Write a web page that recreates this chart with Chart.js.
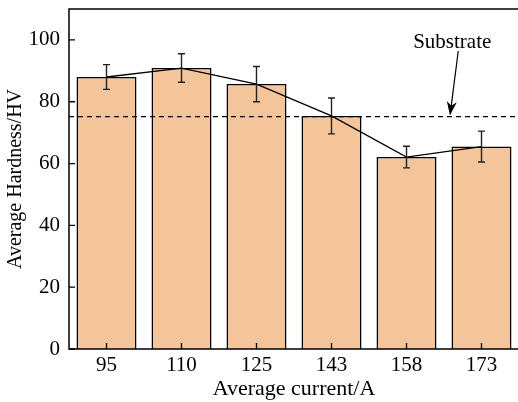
<!DOCTYPE html>
<html>
<head>
<meta charset="utf-8">
<script src="https://cdn.jsdelivr.net/npm/chart.js@4.4.1/dist/chart.umd.min.js"></script>
<style>
    html, body { margin: 0; padding: 0; background: #fff; overflow: hidden; }
    canvas { display: block; }
</style>
</head>
<body>
<canvas id="hardness" width="521" height="402"></canvas>
<script>
// Средний ток, A
const currents = ['95', '110', '125', '143', '158', '173'];
// Средняя твёрдость, HV
const hardness = [88.0, 90.9, 85.7, 75.4, 62.1, 65.5];
// Погрешность (±)
const hardnessErr = [4.0, 4.6, 5.7, 5.8, 3.5, 5.0];
const yTicks = [0, 20, 40, 60, 80, 100];
// Твёрдость подложки
const substrateHV = 75.2;
const substrateLabel = 'Substrate';

const serif = "'Liberation Serif', 'Times New Roman', serif";

// Рамка, засечки внутрь, усы погрешности, пунктир подложки и стрелка
const extrasPlugin = {
    id: 'extras',
    afterDatasetsDraw(chart) {
        const ctx = chart.ctx;
        const { left, right, top, bottom } = chart.chartArea;
        const xs = chart.scales.x;
        const ys = chart.scales.y;
        ctx.save();

        // усы погрешности
        ctx.strokeStyle = '#222';
        ctx.lineWidth = 1.4;
        hardness.forEach((v, i) => {
            const px = xs.getPixelForValue(i);
            const hi = ys.getPixelForValue(v + hardnessErr[i]);
            const lo = ys.getPixelForValue(v - hardnessErr[i]);
            ctx.beginPath();
            ctx.moveTo(px, hi); ctx.lineTo(px, lo);
            ctx.moveTo(px - 3.5, hi); ctx.lineTo(px + 3.5, hi);
            ctx.moveTo(px - 3.5, lo); ctx.lineTo(px + 3.5, lo);
            ctx.stroke();
        });

        // пунктир подложки
        const sy = ys.getPixelForValue(substrateHV);
        ctx.strokeStyle = '#000';
        ctx.lineWidth = 1.2;
        ctx.setLineDash([5, 4]);
        ctx.beginPath();
        ctx.moveTo(left, sy); ctx.lineTo(right, sy);
        ctx.stroke();
        ctx.setLineDash([]);

        // подпись и стрелка
        ctx.fillStyle = '#000';
        ctx.font = '21px ' + serif;
        ctx.textAlign = 'center';
        ctx.textBaseline = 'alphabetic';
        ctx.fillText(substrateLabel, xs.getPixelForValue(4.61), ys.getPixelForValue(97.5));

        const x1 = xs.getPixelForValue(4.69), y1 = ys.getPixelForValue(96.4);
        const x2 = xs.getPixelForValue(4.58), y2 = sy - 1;
        const ang = Math.atan2(y2 - y1, x2 - x1);
        const len = 14, half = 5;
        ctx.lineWidth = 1.2;
        ctx.beginPath();
        ctx.moveTo(x1, y1);
        ctx.lineTo(x2 - Math.cos(ang) * 8, y2 - Math.sin(ang) * 8);
        ctx.stroke();
        const bx = x2 - Math.cos(ang) * len, by = y2 - Math.sin(ang) * len;
        const nx = -Math.sin(ang), ny = Math.cos(ang);
        ctx.beginPath();
        ctx.moveTo(x2, y2);
        ctx.lineTo(bx + nx * half, by + ny * half);
        ctx.lineTo(x2 - Math.cos(ang) * 10, y2 - Math.sin(ang) * 10);
        ctx.lineTo(bx - nx * half, by - ny * half);
        ctx.closePath();
        ctx.fill();

        // рамка
        ctx.strokeStyle = '#000';
        ctx.lineWidth = 1.5;
        ctx.strokeRect(left, top, right - left, bottom - top);

        // засечки внутрь
        ctx.lineWidth = 1.3;
        ctx.beginPath();
        yTicks.forEach(v => {
            const py = ys.getPixelForValue(v);
            ctx.moveTo(left, py); ctx.lineTo(left + 6, py);
        });
        currents.forEach((c, i) => {
            const px = xs.getPixelForValue(i);
            ctx.moveTo(px, bottom); ctx.lineTo(px, bottom - 6);
        });
        ctx.stroke();

        ctx.restore();
    }
};

new Chart(document.getElementById('hardness'), {
    data: {
        labels: currents,
        datasets: [
            {
                type: 'line',
                data: hardness,
                borderColor: '#000',
                borderWidth: 1.3,
                pointRadius: 0,
                tension: 0,
                order: 0
            },
            {
                type: 'bar',
                data: hardness,
                backgroundColor: '#F4C49A',
                borderColor: '#000',
                borderWidth: 1.5,
                barPercentage: 0.8,
                categoryPercentage: 1,
                order: 1
            }
        ]
    },
    options: {
        responsive: false,
        animation: false,
        layout: { padding: { top: 9, right: 2, left: 0, bottom: 0 } },
        plugins: {
            legend: { display: false },
            tooltip: { enabled: false }
        },
        scales: {
            x: {
                type: 'category',
                offset: true,
                grid: { display: false, drawTicks: false },
                border: { display: false },
                ticks: { color: '#000', font: { family: serif, size: 21 }, padding: 4, maxRotation: 0 },
                title: {
                    display: true,
                    text: 'Average current/A',
                    color: '#000',
                    font: { family: serif, size: 22 },
                    padding: { top: 0, bottom: 0 }
                },
                afterFit(scale) {
                    scale.height = 53;
                    scale.paddingLeft = 0;
                    scale.paddingRight = 0;
                }
            },
            y: {
                min: 0,
                max: 110,
                grid: { display: false, drawTicks: false },
                border: { display: false },
                afterBuildTicks(scale) { scale.ticks = yTicks.map(v => ({ value: v })); },
                ticks: { color: '#000', font: { family: serif, size: 21 }, padding: 9 },
                title: {
                    display: true,
                    text: 'Average Hardness/HV',
                    color: '#000',
                    font: { family: serif, size: 20 },
                    padding: { top: 4, bottom: 0 }
                },
                afterFit(scale) {
                    scale.width = 69;
                    scale.paddingTop = 0;
                    scale.paddingBottom = 0;
                }
            }
        }
    },
    plugins: [extrasPlugin]
});
</script>
</body>
</html>
